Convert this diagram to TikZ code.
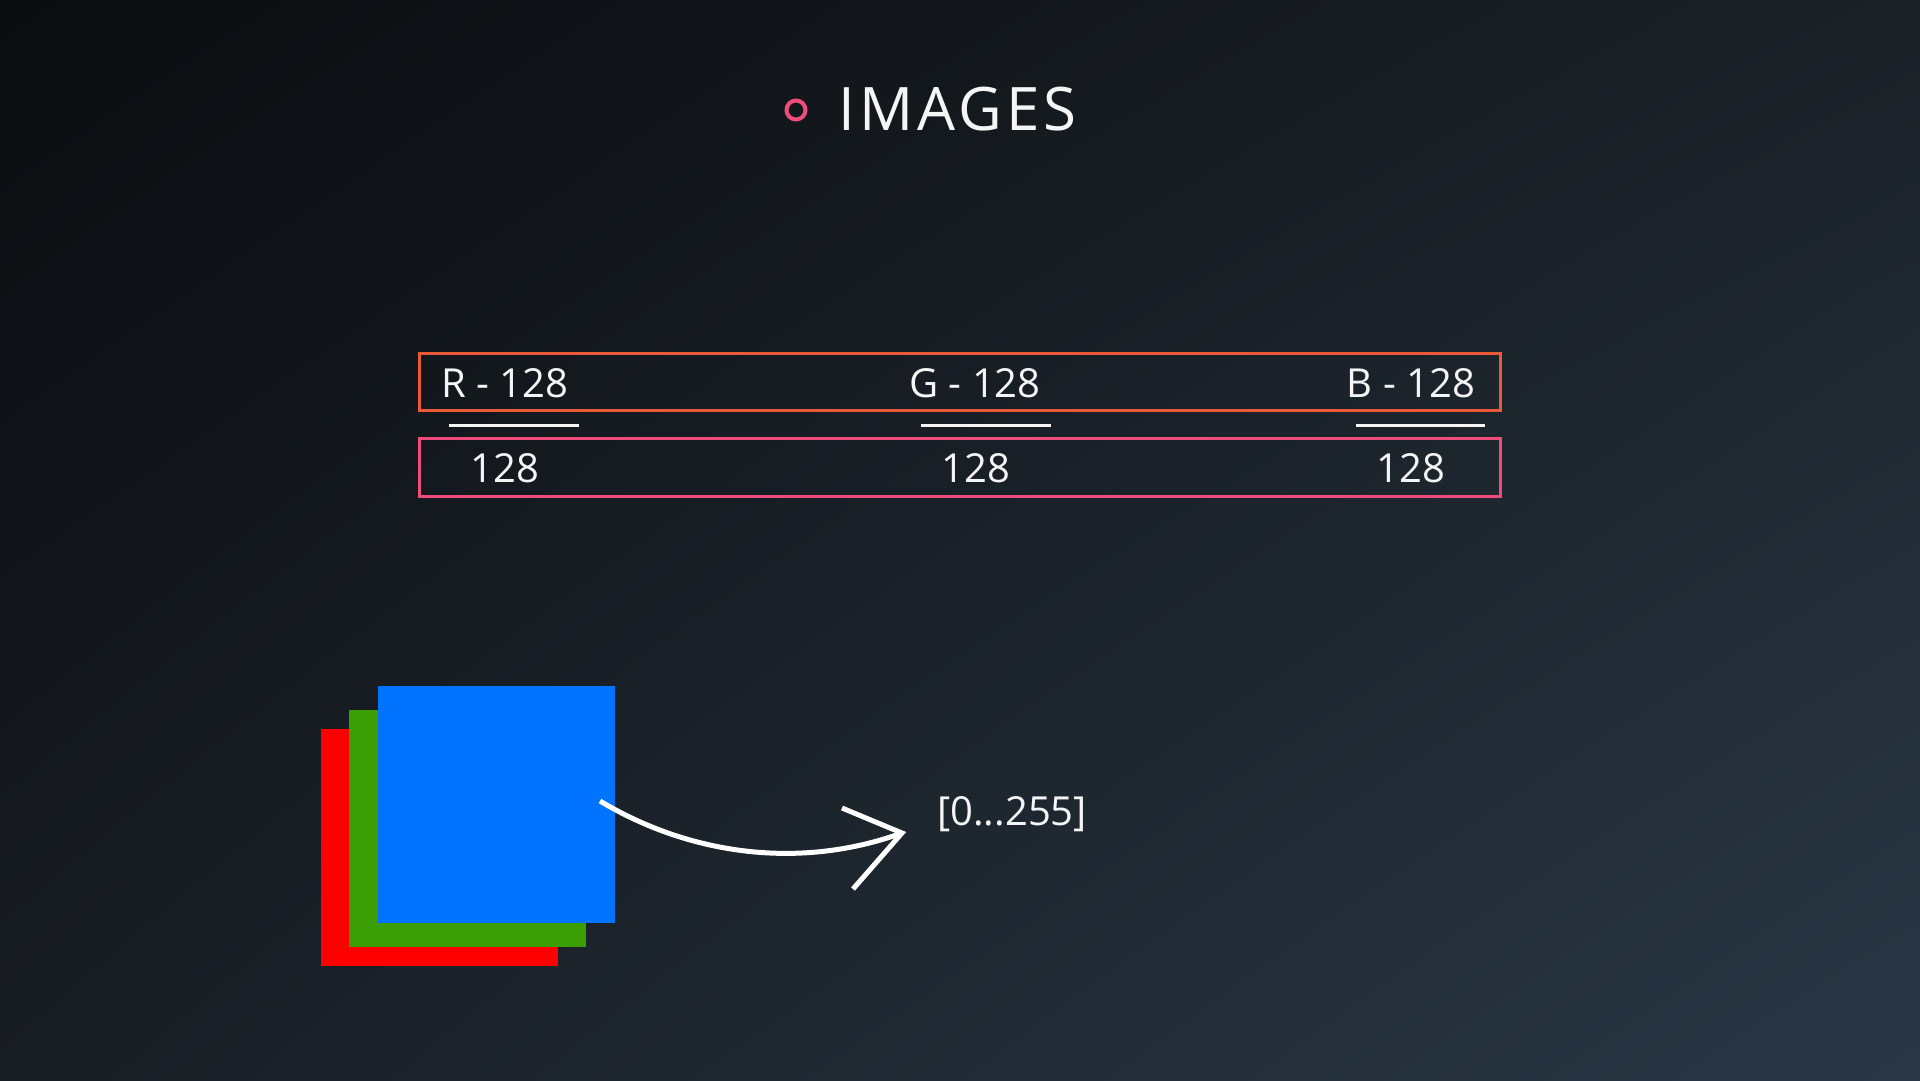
\documentclass[tikz,border=0pt]{standalone}
\usepackage{fontspec}
\usetikzlibrary{shadings}
\setmainfont{Open Sans}
\definecolor{bgA}{RGB}{10,12,15}
\definecolor{bgB}{RGB}{27,33,39}
\definecolor{bgC}{RGB}{24,29,35}
\definecolor{bgD}{RGB}{42,56,70}
\definecolor{orangebox}{RGB}{234,90,58}
\definecolor{pinkbox}{RGB}{238,76,122}
\definecolor{sqred}{RGB}{255,0,0}
\definecolor{sqgreen}{RGB}{58,158,4}
\definecolor{sqblue}{RGB}{0,115,255}
\definecolor{txt}{RGB}{245,245,245}
\tikzset{
  cell/.style={anchor=base, inner sep=0pt, text=txt, font=\fontsize{40}{48}\selectfont},
  underl/.style={draw=txt, line width=3pt},
  square/.style={inner sep=0pt, minimum width=237pt, minimum height=237pt, anchor=north west},
  curvearrow/.style={draw=white, line width=5pt},
}
\begin{document}
\begin{tikzpicture}[x=1pt,y=-1pt]
\useasboundingbox (0,0) rectangle (1920,1080);
\shade[upper left=bgA, upper right=bgB, lower left=bgC, lower right=bgD] (0,0) rectangle (1920,1080);
% title
\node[circle, draw=pinkbox, line width=4pt, minimum size=19pt, inner sep=0pt] (dot) at (796,110) {};
\node[anchor=base west, inner sep=0pt, text=txt, font=\fontsize{60}{72}\selectfont\addfontfeature{LetterSpace=7}] (title) at (838,130) {IMAGES};
% table
\draw[orangebox, line width=3pt] (419,353) rectangle (1500,410);
\draw[pinkbox, line width=3pt] (419,438) rectangle (1500,496);
\node[cell] (r) at (505,397) {R - 128};
\node[cell] (g) at (975,397) {G - 128};
\node[cell] (b) at (1411,397) {B - 128};
\draw[underl] (449,425) -- (579,425);
\draw[underl] (921,425) -- (1051,425);
\draw[underl] (1356,425) -- (1485,425);
\node[cell] (r2) at (505,482) {128};
\node[cell] (g2) at (976,482) {128};
\node[cell] (b2) at (1411,482) {128};
% squares
\node[square, fill=sqred] (red) at (321,729) {};
\node[square, fill=sqgreen] (green) at (349,710) {};
\node[square, fill=sqblue] (blue) at (378,686) {};
% arrow
\coordinate (start) at (600,801);
\coordinate (tip) at (902,833);
\coordinate (armA) at (842,808);
\coordinate (armB) at (853,889);
\node[anchor=base west, inner sep=0pt, text=txt, font=\fontsize{40}{48}\selectfont] (range) at (937,825) {[0...255]};
\draw[curvearrow] (start) .. controls (690,855) and (800,870) .. (tip);
\draw[curvearrow] (armA) -- (tip) -- (armB);
\end{tikzpicture}
\end{document}
